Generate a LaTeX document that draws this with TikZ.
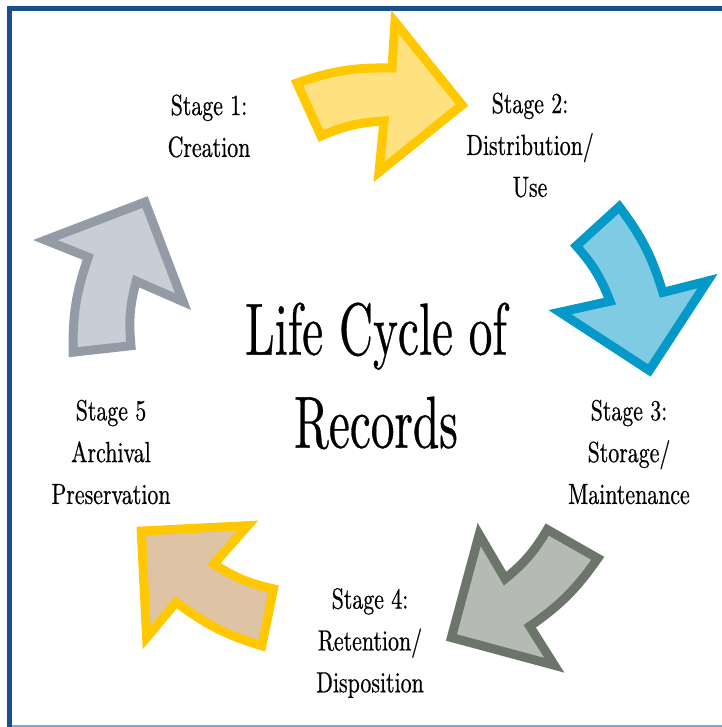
\documentclass[tikz,border=0pt]{standalone}
\usepackage{fontspec}
\newfontfamily\stagefont{lmroman10-regular.otf}[FakeStretch=0.75, FakeBold=0.6]
\newfontfamily\titlefont{lmroman10-regular.otf}[FakeStretch=0.64, FakeBold=0.4]

\definecolor{framedark}{HTML}{1A4F8B}
\definecolor{framelight}{HTML}{7FA7D0}
\definecolor{creationfill}{HTML}{FFE27F}
\definecolor{creationline}{HTML}{FFC800}
\definecolor{usefill}{HTML}{7FCBE3}
\definecolor{useline}{HTML}{0599CA}
\definecolor{storagefill}{HTML}{B5BAB4}
\definecolor{storageline}{HTML}{6B7569}
\definecolor{retentionfill}{HTML}{DEC4A5}
\definecolor{retentionline}{HTML}{FFC800}
\definecolor{archivefill}{HTML}{C8CDD6}
\definecolor{archiveline}{HTML}{939CA6}

\tikzset{
  stagelabel/.style={align=center, inner sep=0pt, font=\stagefont\fontsize{16.6}{23.8}\selectfont},
  titlelabel/.style={align=center, inner sep=0pt, font=\titlefont\fontsize{42}{53}\selectfont},
  cyclearrow/.style={line width=0.18cm, line join=miter, miter limit=10}
}

\begin{document}
\begin{tikzpicture}[x=0.02cm, y=0.02cm]
\useasboundingbox (0,0) rectangle (722,-727);

% frame
\draw[framedark, line width=0.11cm, line join=miter] (9.5,-727) -- (9.5,-8.5) -- (722,-8.5);
\draw[framelight, line width=0.03cm] (12,-726) -- (722,-726);

% the five curved arrows, turned round the centre
\foreach \fillc/\linec/\dx/\dy [count=\i from 0] in {creationfill/creationline/0/0,
    usefill/useline/-2/0, storagefill/storageline/-6/-5,
    retentionfill/retentionline/-7/-2, archivefill/archiveline/-6/1}
  \draw[cyclearrow, fill=\fillc, draw=\linec, shift={({374+\dx},{-368+\dy})}, rotate=-72*\i]
    (-77,285) to[bend left=10] (18,300) -- (21,346) -- (88,263) -- (5,196) -- (10,247)
    to[bend right=10] (-53,232) -- cycle;

\node[titlelabel] (title) at (376,-376) {Life Cycle of\\Records};

\node[stagelabel] (creation) at (209,-126) {Stage 1:\\Creation};
\node[stagelabel] (distribution) at (530,-145) {Stage 2:\\Distribution/\\Use};
\node[stagelabel] (storage) at (629,-452) {Stage 3:\\Storage/\\Maintenance};
\node[stagelabel] (retention) at (370,-643) {Stage 4:\\Retention/\\Disposition};
\node[stagelabel] (archive) at (111,-452) {Stage 5\\Archival\\Preservation};
\end{tikzpicture}
\end{document}
